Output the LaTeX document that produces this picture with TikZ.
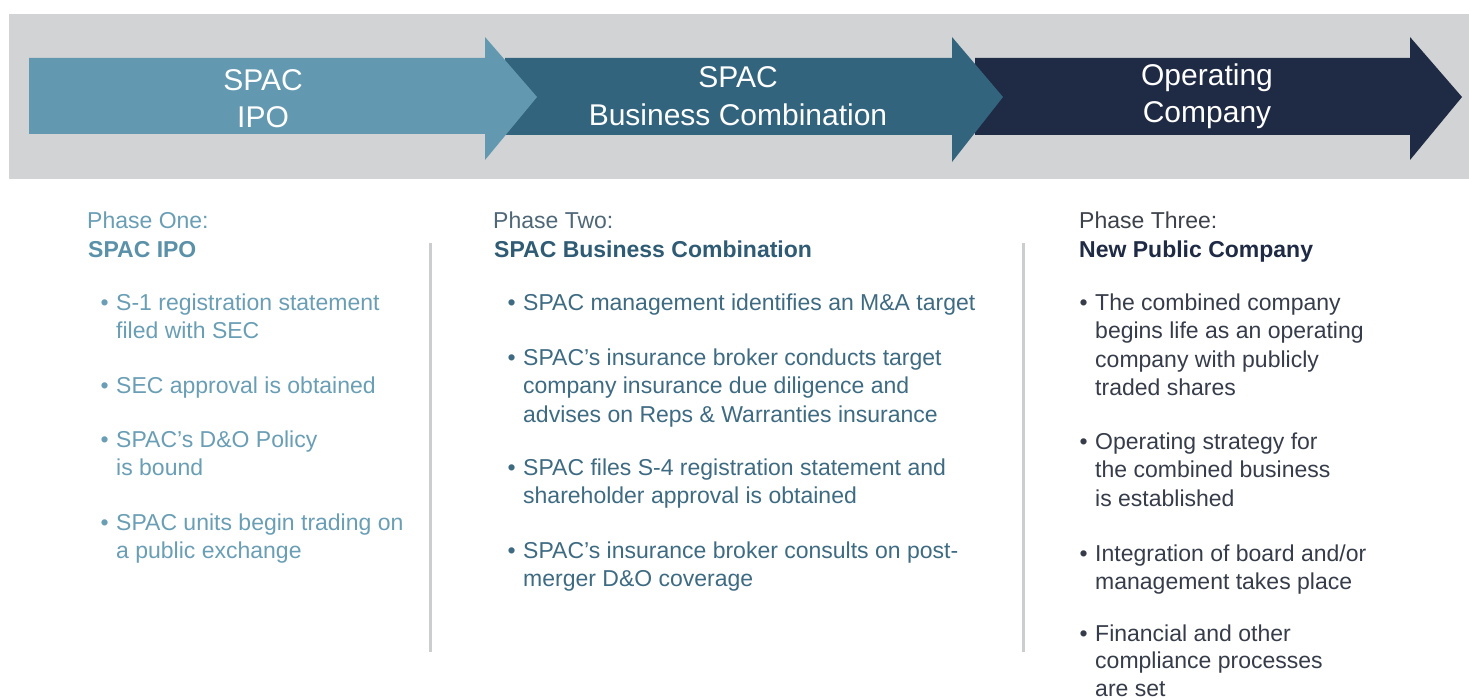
\documentclass[tikz,border=0pt]{standalone}
\usepackage{fontspec}
\setmainfont{Liberation Sans}
\definecolor{band}{HTML}{D1D3D4}
\definecolor{aone}{HTML}{6399B0}
\definecolor{atwo}{HTML}{33647E}
\definecolor{athree}{HTML}{1F2A44}
\definecolor{divider}{HTML}{CBCDCE}
\definecolor{cone}{HTML}{6A9EB5}
\definecolor{conebold}{HTML}{5A91A9}
\definecolor{ctwo}{HTML}{3E6B82}
\definecolor{ctwobold}{HTML}{2F5C74}
\definecolor{ctwohead}{HTML}{4F6776}
\definecolor{cthree}{HTML}{363C49}
\definecolor{cthreebold}{HTML}{1F2A44}
\definecolor{cthreehead}{HTML}{3D414A}
\tikzset{
  arrowtext/.style={text=white, font=\fontsize{30}{37}\selectfont, align=center, inner sep=0pt, anchor=base},
  body/.style={font=\fontsize{23}{28.5}\selectfont, align=left, inner sep=0pt, anchor=north west},
  headline/.style={font=\fontsize{23}{28.5}\selectfont, inner sep=0pt, anchor=base west},
  boldline/.style={font=\fontsize{23}{28.5}\selectfont\bfseries, inner sep=0pt, anchor=base west},
  divline/.style={draw=divider, line width=3pt},
}
\newcommand{\bul}{\llap{\textbullet\hspace{7.5pt}}\strut}
\begin{document}
\begin{tikzpicture}[x=1pt,y=-1pt]
\useasboundingbox (0,0) rectangle (1469,698);
\fill[white] (0,0) rectangle (1469,698);
% band
\fill[band] (9,14) rectangle (1469,179);
% arrows (back to front)
\fill[athree] (975,58) -- (1410,58) -- (1410,37) -- (1462,97) -- (1410,160) -- (1410,135) -- (975,135) -- cycle;
\fill[atwo] (505,58) -- (952,58) -- (952,37) -- (1003,97) -- (952,162) -- (952,135) -- (505,135) -- cycle;
\fill[aone] (29,58) -- (485,58) -- (485,37) -- (537,97) -- (485,160) -- (485,134) -- (29,134) -- cycle;
% arrow labels (base = baseline of last line)
\node[arrowtext] (t1) at (263,128) {SPAC\\IPO};
\node[arrowtext] (t2) at (738,125) {SPAC\\Business Combination};
\node[arrowtext] (t3) at (1207,123) {Operating\\Company};
% dividers
\draw[divline] (430,243) coordinate (d1a) -- (430,652) coordinate (d1b);
\draw[divline] (1023,243) coordinate (d2a) -- (1023,652) coordinate (d2b);
% column one
\node[headline, text=cone] (p1) at (87,228) {Phase One:};
\node[boldline, text=conebold] (p1b) at (88,257) {SPAC IPO};
\node[body, text=cone] (b11) at (116,290.05) {\bul S-1 registration statement\\filed with SEC};
\node[body, text=cone] (b12) at (116,373.05) {\bul SEC approval is obtained};
\node[body, text=cone] (b13) at (116,427.05) {\bul SPAC's D\&O Policy\\is bound};
\node[body, text=cone] (b14) at (116,510.05) {\bul SPAC units begin trading on\\a public exchange};
% column two
\node[headline, text=ctwohead] (p2) at (493,228) {Phase Two:};
\node[boldline, text=ctwobold] (p2b) at (494,257) {SPAC Business Combination};
\node[body, text=ctwo] (b21) at (523,290.05) {\bul SPAC management identifies an M\&A target};
\node[body, text=ctwo] (b22) at (523,345.05) {\bul SPAC's insurance broker conducts target\\company insurance due diligence and\\advises on Reps \& Warranties insurance};
\node[body, text=ctwo] (b23) at (523,455.05) {\bul SPAC files S-4 registration statement and\\shareholder approval is obtained};
\node[body, text=ctwo] (b24) at (523,538.05) {\bul SPAC's insurance broker consults on post-\\merger D\&O coverage};
% column three
\node[headline, text=cthreehead] (p3) at (1079,228) {Phase Three:};
\node[boldline, text=cthreebold] (p3b) at (1079,257) {New Public Company};
\node[body, text=cthree] (b31) at (1095,290.05) {\bul The combined company\\begins life as an operating\\company with publicly\\traded shares};
\node[body, text=cthree] (b32) at (1095,429.05) {\bul Operating strategy for\\the combined business\\is established};
\node[body, text=cthree] (b33) at (1095,541.05) {\bul Integration of board and/or\\management takes place};
\node[body, text=cthree, font=\fontsize{23}{27.5}\selectfont] (b34) at (1095,622) {\bul Financial and other\\compliance processes\\are set};
\end{tikzpicture}
\end{document}
